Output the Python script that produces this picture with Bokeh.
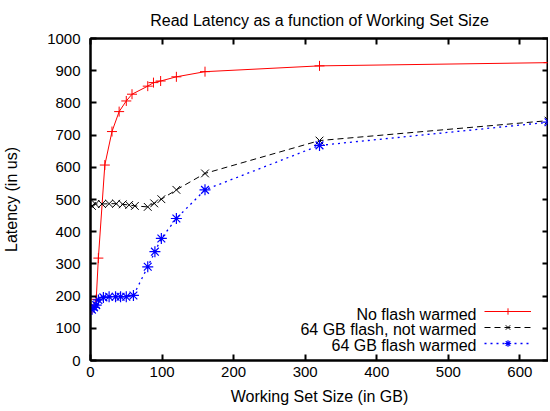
from bokeh.plotting import figure
from bokeh.models import Range1d, LinearAxis, FixedTicker, Legend, LegendItem, Label, CustomJSTickFormatter
from bokeh.embed import file_html
from bokeh.resources import INLINE

# ---- data ----
red_x = [2, 8, 11, 20, 30, 40, 50, 58, 80, 88, 98, 120, 160, 320, 640]
red_y = [160, 190, 318, 607, 711, 773, 806, 827, 852, 863, 868, 881, 897, 915, 925]

blk_x = [2, 7, 16, 26, 36, 45, 54, 62, 80, 89, 99, 120, 160, 320, 640]
blk_y = [480, 486, 486, 487, 487, 485, 483, 480, 477, 488, 501, 530, 581, 683, 745]

blu_x = [2, 5, 8, 11, 18, 26, 35, 42, 50, 60, 80, 90, 99, 120, 160, 320, 640]
blu_y = [158, 165, 172, 188, 196, 198, 198, 198, 198, 202, 291, 338, 379, 441, 530, 668, 740]

series_names = ["No flash warmed", "64 GB flash, not warmed", "64 GB flash warmed"]
x_ticks = [0, 100, 200, 300, 400, 500, 600]
y_ticks = [0, 100, 200, 300, 400, 500, 600, 700, 800, 900, 1000]

FONT = "Liberation Sans"

p = figure(frame_width=458, frame_height=322, output_backend="svg", toolbar_location=None,
           x_range=Range1d(0, 640), y_range=Range1d(0, 1000),
           min_border_left=0, min_border_right=0, min_border_top=0, min_border_bottom=0)
p.title.text = "Read Latency as a function of Working Set Size"
p.title.align = "center"
p.title.text_font = FONT
p.title.text_font_size = "16px"
p.title.text_font_style = "normal"
p.title.text_color = "black"
p.title.standoff = 19

p.grid.visible = False
p.outline_line_color = "black"
p.outline_line_width = 2

for ax in (p.xaxis[0], p.yaxis[0]):
    ax.axis_line_width = 2
    ax.major_tick_line_width = 2
    ax.major_tick_in = 6
    ax.major_tick_out = 0
    ax.minor_tick_line_color = None
    ax.major_label_text_font = FONT
    ax.major_label_text_font_size = "15px"
    ax.major_label_text_color = "black"
    ax.axis_label_text_font = FONT
    ax.axis_label_text_font_size = "16px"
    ax.axis_label_text_font_style = "normal"
    ax.axis_label_text_color = "black"

p.xaxis[0].ticker = FixedTicker(ticks=x_ticks)
p.yaxis[0].ticker = FixedTicker(ticks=y_ticks)
p.xaxis[0].axis_label = "Working Set Size (in GB)"
p.yaxis[0].axis_label = "Latency (in us)"
p.xaxis[0].major_label_standoff = 6
p.xaxis[0].axis_label_standoff = 8
p.yaxis[0].major_label_standoff = 10
p.yaxis[0].axis_label_standoff = 24

# mirrored ticks on top and right (no labels)
blank = CustomJSTickFormatter(code="return ''")
for loc, tk in (("above", x_ticks), ("right", y_ticks)):
    a = LinearAxis(ticker=FixedTicker(ticks=tk), formatter=blank)
    a.major_label_standoff = 0
    a.major_tick_in = 6
    a.major_tick_out = 0
    a.major_tick_line_width = 2
    a.minor_tick_line_color = None
    a.axis_line_width = 2
    p.add_layout(a, loc)

r1l = p.line(red_x, red_y, line_color="#ff0000", line_width=1)
r1m = p.scatter(red_x, red_y, marker="cross", size=10, line_color="#ff0000", line_width=1)
r2l = p.line(blk_x, blk_y, line_color="black", line_width=1, line_dash="6 4")
r2m = p.scatter(blk_x, blk_y, marker="x", size=11, line_color="black", line_width=1)
r3l = p.line(blu_x, blu_y, line_color="#0000ff", line_width=1.3, line_dash="2 4")
r3m = p.scatter(blu_x, blu_y, marker="asterisk", size=11, line_color="#0000ff", line_width=1.2)

legend = Legend(items=[LegendItem(label=" ", renderers=[r1l, r1m]),
                       LegendItem(label=" ", renderers=[r2l, r2m]),
                       LegendItem(label=" ", renderers=[r3l, r3m])],
                location=(394, 9), orientation="vertical",
                glyph_width=47, glyph_height=16, label_height=16, label_width=0,
                label_standoff=0, spacing=0, padding=0, margin=0,
                border_line_color=None, background_fill_alpha=0,
                label_text_font_size="1px")
p.add_layout(legend, "center")

for i, name in enumerate(series_names):
    p.add_layout(Label(x=386, y=46.5 - i * 15.6, x_units="screen", y_units="screen",
                       text=name, text_align="right", text_baseline="middle",
                       text_font=FONT, text_font_size="16px", text_color="black"))

open("out.html", "w").write(file_html(p, INLINE))
